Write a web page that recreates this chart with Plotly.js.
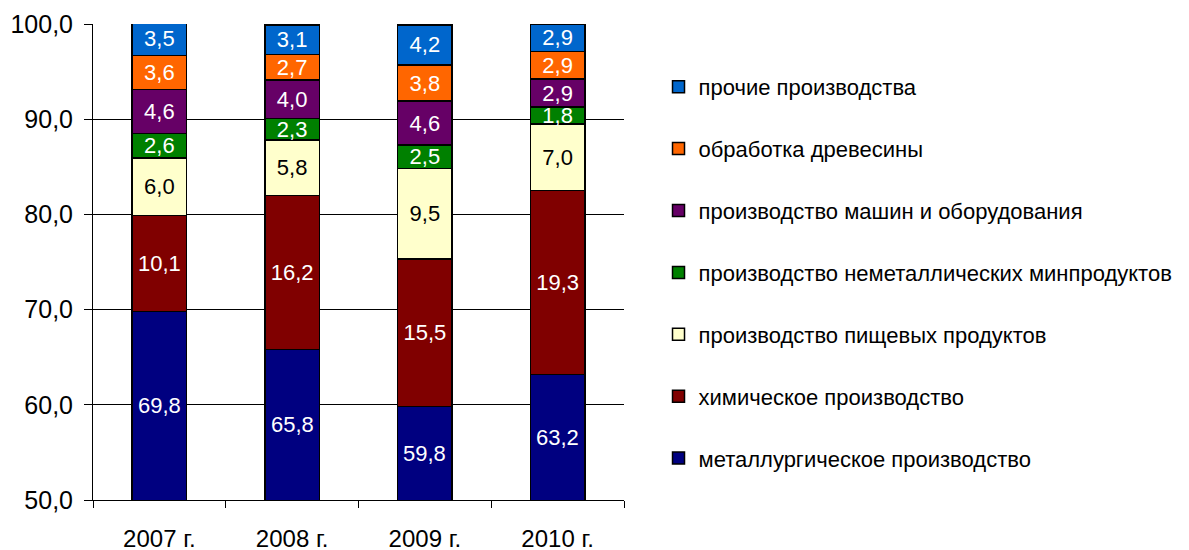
<!DOCTYPE html>
<html>
<head>
<meta charset="utf-8">
<script src="https://cdn.plot.ly/plotly-3.0.1.min.js"></script>
<style>html,body{margin:0;padding:0;background:#fff;}#chart{width:1189px;height:550px;}</style>
</head>
<body>
<div id="chart"></div>
<script>
var years = ["2007 г.", "2008 г.", "2009 г.", "2010 г."];
var metallurgy = [69.8, 65.8, 59.8, 63.2];
var chemical = [10.1, 16.2, 15.5, 19.3];
var food = [6.0, 5.8, 9.5, 7.0];
var nonmetal = [2.6, 2.3, 2.5, 1.8];
var machinery = [4.6, 4.0, 4.6, 2.9];
var wood = [3.6, 2.7, 3.8, 2.9];
var other = [3.5, 3.1, 4.2, 2.9];

var seriesNames = ["металлургическое производство", "химическое производство", "производство пищевых продуктов",
  "производство неметаллических минпродуктов", "производство машин и оборудования", "обработка древесины", "прочие производства"];
var seriesData = [metallurgy, chemical, food, nonmetal, machinery, wood, other];
var colors = ["#000080", "#800000", "#FFFFCC", "#008000", "#660066", "#FF6600", "#0066CC"];
var textColors = ["#fff", "#fff", "#000", "#fff", "#fff", "#fff", "#fff"];

var yMin = 50, yMax = 100;
var font = "Liberation Sans, Arial, sans-serif";
var traces = seriesData.map(function (d, i) {
  return {
    type: "bar", x: years, y: d, name: seriesNames[i],
    legendgroup: "g" + i, legendrank: 100 - i,
    marker: {color: colors[i], line: {color: "#000", width: 1.5}},
    texttemplate: "%{y:.1f}", textposition: i === 0 ? "none" : "inside", insidetextanchor: "middle",
    textangle: 0, constraintext: "none",
    textfont: {family: font, size: 22, color: textColors[i]},
    hoverinfo: "none"
  };
});

// labels for the bottom series, centred in its visible part (axis starts at 50)
var annotations = metallurgy.map(function (v, j) {
  return {x: years[j], y: (Math.max(yMin, 0) + v) / 2, xref: "x", yref: "y", showarrow: false,
    text: v.toFixed(1).replace(".", ","), font: {family: font, size: 22, color: "#fff"}};
});

var layout = {
  width: 1189, height: 550,
  margin: {l: 93, r: 559, t: 24, b: 50},
  barmode: "stack", bargap: 0.59,
  separators: ", ",
  paper_bgcolor: "#fff", plot_bgcolor: "#fff",
  font: {family: font, color: "#000"},
  showlegend: true,
  annotations: annotations,
  legend: {x: 1.065, xanchor: "left", y: 0.912, yanchor: "top", traceorder: "grouped",
    tracegroupgap: 30.3, font: {family: font, size: 22, color: "#000"}, bgcolor: "rgba(0,0,0,0)"},
  xaxis: {type: "category", showline: true, linecolor: "#000", linewidth: 1,
    ticks: "outside", tickson: "boundaries", ticklen: 7, tickcolor: "#000", ticklabelstandoff: 17,
    tickfont: {family: font, size: 24, color: "#000"}, showgrid: false},
  yaxis: {range: [yMin, yMax], dtick: 10, tick0: 50, tickformat: ".1f", showline: true, linecolor: "#000", linewidth: 1,
    ticks: "outside", ticklen: 8, tickcolor: "#000", showgrid: true, gridcolor: "#000", gridwidth: 1,
    ticklabelstandoff: 6, zeroline: false, tickfont: {family: font, size: 25, color: "#000"}}
};

Plotly.newPlot("chart", traces, layout, {displayModeBar: false, staticPlot: true});
</script>
</body>
</html>
